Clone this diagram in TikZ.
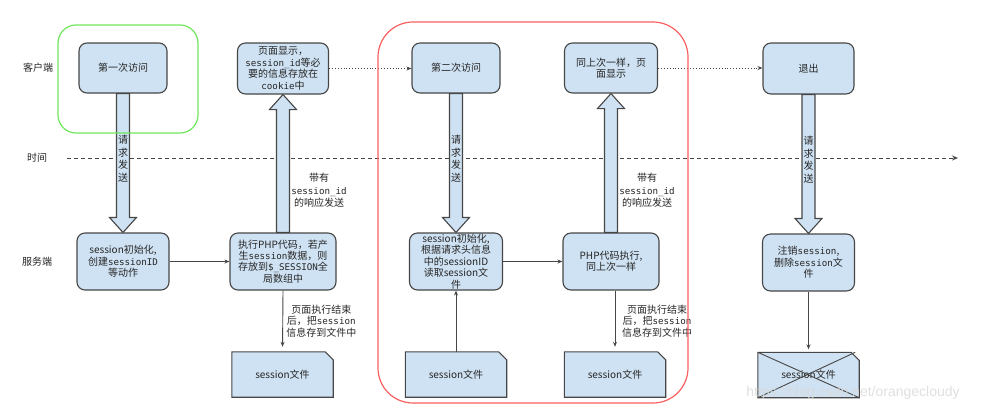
\documentclass[tikz,border=0pt]{standalone}
\usepackage{fontspec}
\setmainfont{Noto Sans CJK SC}
\setmonofont{DejaVu Sans Mono}[Scale=0.92]
\newfontfamily\markfont{Liberation Sans}
\usetikzlibrary{arrows.meta, positioning, calc, backgrounds}
\definecolor{boxfill}{RGB}{207,226,243}
\definecolor{boxline}{RGB}{70,70,70}
\definecolor{frameg}{RGB}{110,232,90}
\definecolor{framer}{RGB}{250,95,95}
\tikzset{
  stepbox/.style={rectangle, rounded corners=8bp, draw=boxline, line width=1.1bp,
                  fill=boxfill, align=center, inner sep=0pt, text=black!85},
  filetext/.style={inner sep=0pt, minimum width=101bp, minimum height=45bp, text=black!85},
  fileline/.style={draw=boxline, line width=1.1bp, fill=boxfill},
  fatline/.style={draw=boxline, line width=1.1bp, fill=boxfill},
  vtext/.style={align=center, inner sep=0pt, font=\fontsize{10bp}{12.5bp}\selectfont, text=black!85},
  note/.style={align=center, inner sep=0pt, text=black!85},
  sidelabel/.style={inner sep=0pt, text=black!85},
  arrow/.style={-{Stealth[length=5bp, width=4bp]}, line width=0.9bp, color=boxline},
  dotarrow/.style={-{Stealth[length=5bp, width=4bp]}, dotted, line width=0.9bp, color=boxline},
  timeline/.style={-{Stealth[length=6bp, width=5bp]}, dash pattern=on 4bp off 3bp,
                   line width=1bp, color=boxline},
}
% session file with cut corner
\newcommand\sessfile[2]{%
  \node[filetext] (#1) at (#2) {session文件};
  \begin{scope}[on background layer]
    \draw[fileline] (#1.south west) -- (#1.north west) -- ($(#1.north east)+(-8,0)$)
      -- ($(#1.north east)+(0,8)$) -- (#1.south east) -- cycle;
  \end{scope}}
% wide arrow, #3 = 1 down, -1 up
\newcommand\fatarrow[3]{%
  \draw[fatline] ($(#1)+(-6.5,0)$) -- ($(#2)+(-6.5,{-15*#3})$) -- ($(#2)+(-13.5,{-15*#3})$)
    -- (#2) -- ($(#2)+(13.5,{-15*#3})$) -- ($(#2)+(6.5,{-15*#3})$) -- ($(#1)+(6.5,0)$) -- cycle;}

\begin{document}
\begin{tikzpicture}[x=1bp, y=-1bp, font=\fontsize{10bp}{11.4bp}\selectfont]
  \useasboundingbox (0,0) rectangle (983,410);

  % side labels and time axis
  \node[sidelabel] (client) at (38,68) {客户端};
  \node[sidelabel] (timelbl) at (37,158) {时间};
  \node[sidelabel] (server) at (37,262) {服务端};
  \coordinate (timestart) at (67,158);
  \coordinate (timeend) at (958,158);
  \draw[timeline] (timestart) -- (timeend);

  % client side
  \node[stepbox, minimum width=88bp, minimum height=50bp] (visit1) at (123,68) {第一次访问};
  \node[stepbox, minimum width=91bp, minimum height=51bp] (show1) at (283,68.5)
    {页面显示，\\\texttt{session\_id}等必\\要的信息存放在\\\texttt{cookie}中};
  \node[stepbox, minimum width=88bp, minimum height=50bp] (visit2) at (456,68) {第二次访问};
  \node[stepbox, minimum width=93bp, minimum height=50bp] (show2) at (611,68) {同上次一样，页\\面显示};
  \node[stepbox, minimum width=91bp, minimum height=51bp] (quit) at (808.5,68.5) {退出};

  % server side
  \node[stepbox, minimum width=92bp, minimum height=57bp] (init1) at (123,261.5)
    {session初始化,\\创建\texttt{sessionID}\\等动作};
  \node[stepbox, minimum width=106bp, minimum height=57bp] (php1) at (283,261.5)
    {执行PHP代码，若产\\生\texttt{session}数据，则\\存放到\texttt{\$\_SESSION}全\\局数组中};
  \node[stepbox, minimum width=93bp, minimum height=57bp] (init2) at (456,261.5)
    {session初始化,\\根据请求头信息\\中的sessionID\\读取session文\\件};
  \node[stepbox, minimum width=96bp, minimum height=57bp] (php2) at (611,261.5)
    {PHP代码执行,\\同上次一样};
  \node[stepbox, minimum width=92bp, minimum height=57bp] (logout) at (808.5,262.5)
    {注销\texttt{session},\\删除\texttt{session}文\\件};

  % session files
  \sessfile{file1}{282.5,374.5}
  \sessfile{file2}{456,374.5}
  \sessfile{file3}{615,374.5}
  \sessfile{file4}{808.5,375}
  \draw[line width=0.9bp, color=boxline] (file4.north west) -- (file4.south east);
  \draw[line width=0.9bp, color=boxline] (file4.south west) -- ($(file4.north east)+(-4,0)$);

  % requests and responses
  \fatarrow{visit1.south}{init1.north}{1}
  \fatarrow{php1.north}{show1.south}{-1}
  \fatarrow{visit2.south}{init2.north}{1}
  \fatarrow{php2.north}{show2.south}{-1}
  \fatarrow{quit.south}{logout.north}{1}
  \foreach \a/\b in {visit1/init1, visit2/init2, quit/logout}{
    \node[vtext] (req-\a) at ($(\a.south)!0.47!(\b.north)$) {请\\求\\发\\送};
  }
  \node[vtext] (resp1) at ($(php1.north)+(36,-42)$) {带有\\\texttt{session\_id}\\的响应发送};
  \node[vtext] (resp2) at ($(php2.north)+(36,-42)$) {带有\\\texttt{session\_id}\\的响应发送};

  % dotted links on the client side
  \draw[dotarrow] (show1.east) -- (show1.east -| visit2.west);
  \draw[dotarrow] (show2.east) -- (show2.east -| quit.west);

  % server side links
  \draw[arrow] (init1.east) -- (php1.west);
  \draw[arrow] (init2.east) -- (php2.west);
  \draw[arrow, shorten >=5bp] (php1.south) -- (file1.north);
  \draw[arrow, shorten >=5bp] (php2.south -| file3.north) -- (file3.north);
  \draw[arrow] (file2.north) -- (init2.south);
  \draw[arrow, shorten >=3bp] (logout.south) -- (file4.north);
  \node[note] (store1) at ($(php1.south)!0.5!(file1.north)+(38.5,0)$)
    {页面执行结束\\后，把\texttt{session}\\信息存到文件中};
  \node[note] (store2) at ($(php2.south)!0.5!(file3.north)+(44,0)$)
    {页面执行结束\\后，把\texttt{session}\\信息存到文件中};

  % frames
  \draw[frameg, line width=1.2bp, rounded corners=18bp] (58,25) rectangle (198,133);
  \draw[framer, line width=1.2bp, rounded corners=35bp] (378,22) rectangle (688,403);

  \node[font=\markfont\fontsize{14bp}{14bp}\selectfont, text=white!70!gray, opacity=0.85]
    (mark) at (853,393) {https://blog.csdn.net/orangecloudy};
\end{tikzpicture}
\end{document}
